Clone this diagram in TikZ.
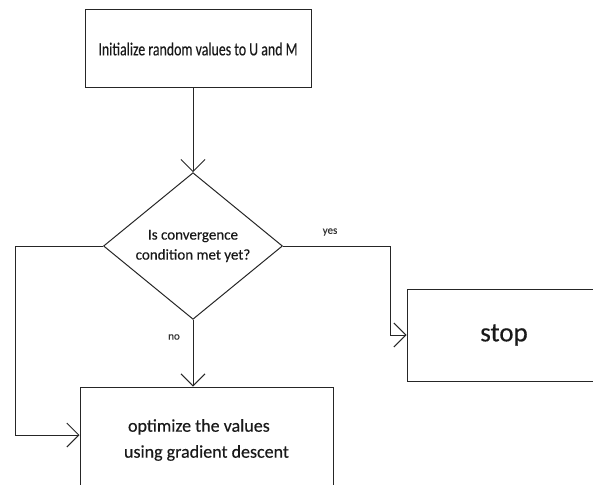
\documentclass[tikz,border=0pt]{standalone}
\usepackage{fontspec}
\setmainfont{Carlito}[FakeBold=0.3]
\newfontfamily\condfont{Carlito}[FakeStretch=0.75,FakeBold=0.3]
\usetikzlibrary{shapes.geometric,arrows.meta}
\begin{document}
\begin{tikzpicture}[x=1pt,y=-1pt,
  box/.style={draw=black!85, line width=1pt, rectangle, inner sep=0pt, align=center, text=black!90},
  conn/.style={draw=black!85, line width=1pt},
  arr/.style={conn, -{Straight Barb[length=12pt,width=24pt,line width=1pt]}},
  lbl/.style={font=\fontsize{11}{13}\selectfont, text=black!80, inner sep=0pt}]
\useasboundingbox (0,0) rectangle (593,484);
\node[box, minimum width=226pt, minimum height=78pt, font=\condfont\fontsize{18.5}{20}\selectfont] (init) at (198,49) {Initialize random values to U and M};
\node[draw=black!85, line width=1pt, diamond, minimum width=179pt, minimum height=111pt, inner sep=0pt, align=center, text=black!90, font=\fontsize{15}{20}\selectfont] (cond) at (193,246) {Is convergence\\condition met yet?};
\node[box, minimum width=194pt, minimum height=92pt, font=\fontsize{27}{30}\selectfont] (stop) at (504,335) {stop};
\node[box, minimum width=253pt, minimum height=106pt, align=left, font=\fontsize{18}{26}\selectfont] (opt) at (206.5,440) {\hspace{4pt}optimize the values\\using gradient descent};
\coordinate (yk) at (390,246);
\coordinate (lk) at (15,246);
\coordinate (lb) at (15,435);
\draw[arr] (cond.north |- init.south) -- (cond.north);
\draw[arr] (cond.south) -- (cond.south |- opt.north);
\draw[arr] (cond.east) -- (yk) |- (stop.west);
\draw[arr] (cond.west) -- (lk) -- (lb) -- (lb -| opt.west);
\node[lbl] (yes) at (330,232) {yes};
\node[lbl] (no) at (174,337) {no};
\end{tikzpicture}
\end{document}
